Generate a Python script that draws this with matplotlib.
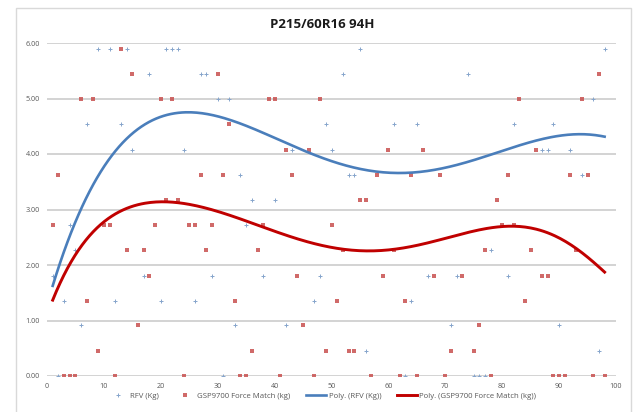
import numpy as np
import matplotlib
matplotlib.use('Agg')
import matplotlib.pyplot as plt
from matplotlib.patches import Rectangle

plt.rcParams['font.family'] = ['Open Sans', 'DejaVu Sans']

# GSP9700 force match readings (kg), one per tyre
gsp_x = [1, 2, 3, 4, 5, 6, 7, 8, 9, 10, 11, 12, 13, 14, 15, 16, 17, 18, 19, 20,
         21, 22, 23, 24, 25, 26, 27, 28, 29, 30, 31, 32, 33, 34, 35, 36, 37, 38, 39, 40,
         41, 42, 43, 44, 45, 46, 47, 48, 49, 50, 51, 52, 53, 54, 55, 56, 57, 58, 59, 60,
         61, 62, 63, 64, 65, 66, 68, 69, 70, 71, 73, 75, 76, 77, 78, 79, 80, 81, 82, 83,
         84, 85, 86, 87, 88, 89, 90, 91, 92, 93, 94, 95, 96, 97, 98]
gsp_kg = [2.72, 3.63, 0.00, 0.00, 0.00, 4.99, 1.36, 4.99, 0.45, 2.72, 2.72, 0.00, 5.90, 2.27, 5.44, 0.91, 2.27, 1.81, 2.72, 4.99,
          3.18, 4.99, 3.18, 0.00, 2.72, 2.72, 3.63, 2.27, 2.72, 5.44, 3.63, 4.54, 1.36, 0.00, 0.00, 0.45, 2.27, 2.72, 4.99, 4.99,
          0.00, 4.08, 3.63, 1.81, 0.91, 4.08, 0.00, 4.99, 0.45, 2.72, 1.36, 2.27, 0.45, 0.45, 3.18, 3.18, 0.00, 3.63, 1.81, 4.08,
          2.27, 0.00, 1.36, 3.63, 0.00, 4.08, 1.81, 3.63, 0.00, 0.45, 1.81, 0.45, 0.91, 2.27, 0.00, 3.18, 2.72, 3.63, 2.72, 4.99,
          1.36, 2.27, 4.08, 1.81, 1.81, 0.00, 0.00, 0.00, 3.63, 2.27, 4.99, 3.63, 0.00, 5.44, 0.00]

# RFV readings (kg)
rfv_x = [1, 2, 3, 4, 5, 6, 7, 9, 11, 12, 13, 14, 15, 17, 18, 20, 21, 22, 23, 24,
         26, 27, 28, 29, 30, 31, 32, 33, 34, 35, 36, 38, 40, 42, 43, 47, 48, 49, 50, 52,
         53, 54, 55, 56, 61, 63, 64, 65, 67, 71, 72, 74, 75, 76, 77, 78, 81, 82, 87, 88,
         89, 90, 92, 94, 96, 97, 98]
rfv_kg = [1.81, 0.00, 1.36, 2.72, 2.27, 0.91, 4.54, 5.90, 5.90, 1.36, 4.54, 5.90, 4.08, 1.81, 5.44, 1.36, 5.90, 5.90, 5.90, 4.08,
          1.36, 5.44, 5.44, 1.81, 4.99, 0.00, 4.99, 0.91, 3.63, 2.72, 3.18, 1.81, 3.18, 0.91, 4.08, 1.36, 1.81, 4.54, 4.08, 5.44,
          3.63, 3.63, 5.90, 0.45, 4.54, 0.00, 1.36, 4.54, 1.81, 0.91, 1.81, 5.44, 0.00, 0.00, 0.00, 2.27, 1.81, 4.54, 4.08, 4.08,
          4.54, 0.91, 4.08, 3.63, 4.99, 0.45, 5.90]

# polynomial trend values at sample positions
trend_x = [1, 3, 6, 9, 13, 16, 20, 24, 28, 33, 38, 44, 50, 56, 61, 66, 71, 77, 83, 89, 93, 98]
rfv_trend = [1.64, 2.20, 3.05, 3.62, 4.17, 4.42, 4.66, 4.76, 4.73, 4.61, 4.37, 4.10, 3.86, 3.71,
             3.67, 3.70, 3.77, 3.94, 4.16, 4.31, 4.36, 4.31]
gsp_trend = [1.32, 1.88, 2.38, 2.66, 2.92, 3.07, 3.16, 3.14, 3.04, 2.89, 2.63, 2.45, 2.33, 2.27,
             2.29, 2.38, 2.50, 2.64, 2.70, 2.54, 2.30, 1.87]

title = 'P215/60R16 94H'
x_ticks = [0, 10, 20, 30, 40, 50, 60, 70, 80, 90, 100]
y_ticks = [0, 1, 2, 3, 4, 5, 6]

c_rfv = '#86a5cc'
c_gsp = '#c8504f'
c_rfv_line = '#4a7ebb'
c_gsp_line = '#c00000'
c_text = '#595959'

fig = plt.figure(figsize=(6.35, 4.12), dpi=100)
fig.patches.append(Rectangle((16 / 635, -0.02), 615 / 635, 1 - 8 / 412 + 0.02,
                             transform=fig.transFigure, fill=False,
                             edgecolor='#d9d9d9', linewidth=1.0))
ax = fig.add_axes([47 / 635, 1 - 376 / 412, 569 / 635, 333 / 412])

xs = np.linspace(1, 98, 300)
rfv_fit = np.polynomial.Polynomial.fit(trend_x, rfv_trend, 7)
gsp_fit = np.polynomial.Polynomial.fit(trend_x, gsp_trend, 7)

ax.plot(rfv_x, rfv_kg, linestyle='none', marker='+', ms=2.8, mew=0.7,
        color=c_rfv, label='RFV (Kg)', zorder=3)
ax.plot(gsp_x, gsp_kg, linestyle='none', marker='s', ms=2.2, mew=0,
        color=c_gsp, alpha=0.85, label='GSP9700 Force Match (kg)', zorder=4)
ax.plot(xs, rfv_fit(xs), color=c_rfv_line, lw=1.9,
        label='Poly. (RFV (Kg))', zorder=5)
ax.plot(xs, gsp_fit(xs), color=c_gsp_line, lw=2.1,
        label='Poly. (GSP9700 Force Match (kg))', zorder=5)

ax.set_xlim(0, 100)
ax.set_ylim(0, 6)
ax.set_xticks(x_ticks)
ax.set_yticks(y_ticks)
ax.set_yticklabels(['%.2f' % v for v in y_ticks])
ax.tick_params(length=0, labelsize=5.2, colors=c_text, pad=5)
ax.yaxis.grid(True, color='#c8c8c8', linewidth=1.1)
ax.set_axisbelow(True)
for s in ax.spines.values():
    s.set_visible(False)

fig.text(0.508, 1 - 25 / 412, title, ha='center', va='center',
         fontsize=9.5, fontweight='bold', color='#1a1a1a')

leg = fig.legend(loc='center', bbox_to_anchor=(322 / 635, 1 - 396 / 412),
                 ncol=4, frameon=False, fontsize=5.6, handlelength=2.6,
                 handletextpad=0.3, columnspacing=2.0, markerscale=1.0)
for t in leg.get_texts():
    t.set_color(c_text)

fig.savefig('out.png', dpi=100)
